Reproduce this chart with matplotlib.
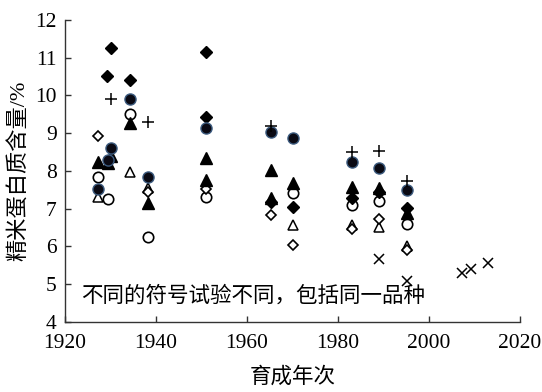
"""Rice protein content vs. breeding year, recreated."""

import matplotlib
matplotlib.use("Agg")
import matplotlib.pyplot as plt

plt.rcParams["font.family"] = ["Liberation Serif", "Noto Sans CJK SC", "DejaVu Sans"]

# filled diamonds
fd_year = [1930.0, 1929.2, 1934.2, 1951.1, 1951.1, 1965.2, 1970.2, 1983.1, 1989.0, 1995.1]
fd_val = [11.27, 10.51, 10.41, 11.16, 9.42, 7.18, 7.04, 7.28, 7.45, 7.01]
# open diamonds
od_year = [1927.2, 1938.3, 1951.1, 1965.2, 1970.2, 1983.1, 1989.0, 1995.1]
od_val = [8.93, 7.45, 7.52, 6.83, 6.04, 6.46, 6.72, 5.91]
# filled triangles
ft_year = [1927.2, 1929.4, 1930.0, 1934.2, 1938.3, 1951.1, 1951.1, 1965.2, 1965.2,
           1970.2, 1983.1, 1989.0, 1995.1]
ft_val = [8.24, 8.22, 8.40, 9.28, 7.16, 8.34, 7.76, 8.03, 7.28, 7.67, 7.58, 7.54, 6.88]
# open triangles
ot_year = [1927.2, 1934.2, 1938.3, 1970.2, 1983.1, 1989.0, 1995.1]
ot_val = [7.32, 7.97, 7.56, 6.57, 6.57, 6.52, 6.01]
# filled circles
fc_year = [1927.2, 1929.4, 1930.0, 1934.2, 1938.3, 1951.1, 1965.2, 1970.2, 1983.1,
           1989.0, 1995.1]
fc_val = [7.53, 8.29, 8.62, 9.90, 7.83, 9.14, 9.03, 8.87, 8.23, 8.07, 7.50]
# open circles
oc_year = [1927.2, 1929.4, 1934.2, 1938.3, 1951.1, 1970.2, 1983.1, 1989.0, 1995.1]
oc_val = [7.85, 7.25, 9.52, 6.24, 7.32, 7.41, 7.10, 7.19, 6.60]
# plus
pl_year = [1930.0, 1938.3, 1965.2, 1983.1, 1989.0, 1995.1]
pl_val = [9.90, 9.30, 9.20, 8.51, 8.54, 7.72]
# crosses
cr_year = [1989.0, 1995.1, 2007.2, 2009.2, 2013.0]
cr_val = [5.66, 5.07, 5.29, 5.40, 5.56]

fig = plt.figure(figsize=(5.42, 3.92), dpi=100)
ax = fig.add_axes([0.12, 0.179, 0.839, 0.77])

ax.plot(oc_year, oc_val, "o", ls="none", ms=7.5, mfc="white", mec="black", mew=1.2)
ax.plot(ot_year, ot_val, "^", ls="none", ms=7.5, mfc="white", mec="black", mew=1.1)
ax.plot(od_year, od_val, "D", ls="none", ms=5, mfc="white", mec="black", mew=1.2)
ax.plot(ft_year, ft_val, "^", ls="none", ms=8, mfc="black", mec="black")
ax.plot(fd_year, fd_val, "D", ls="none", ms=6, mfc="black", mec="black")
ax.plot(fc_year, fc_val, "o", ls="none", ms=8, mfc="#0a0a14", mec="#3d5c80", mew=1.0)
ax.plot(pl_year, pl_val, "+", ls="none", ms=9, mec="black", mew=1.1)
ax.plot(cr_year, cr_val, "x", ls="none", ms=7.5, mec="black", mew=1.1)

ax.set_xlim(1920, 2020)
ax.set_ylim(4, 12)
ax.set_xticks(range(1920, 2021, 20))
ax.set_yticks(range(4, 13))
for side in ("top", "right"):
    ax.spines[side].set_visible(False)
for side in ("left", "bottom"):
    ax.spines[side].set_color("#333333")
    ax.spines[side].set_linewidth(1.0)
ax.tick_params(direction="in", length=4, width=1.0, color="#333333", labelsize=15.5)
ax.tick_params(axis="x", pad=9)
ax.tick_params(axis="y", pad=6)

ax.set_xlabel("育成年次", fontsize=15.5, labelpad=10)
ax.set_ylabel("精米蛋白质含量/%", fontsize=16, labelpad=4)
ax.text(1923.6, 4.66, "不同的符号试验不同，包括同一品种", fontsize=15.5,
        ha="left", va="center")

fig.savefig("out.png", dpi=100)
